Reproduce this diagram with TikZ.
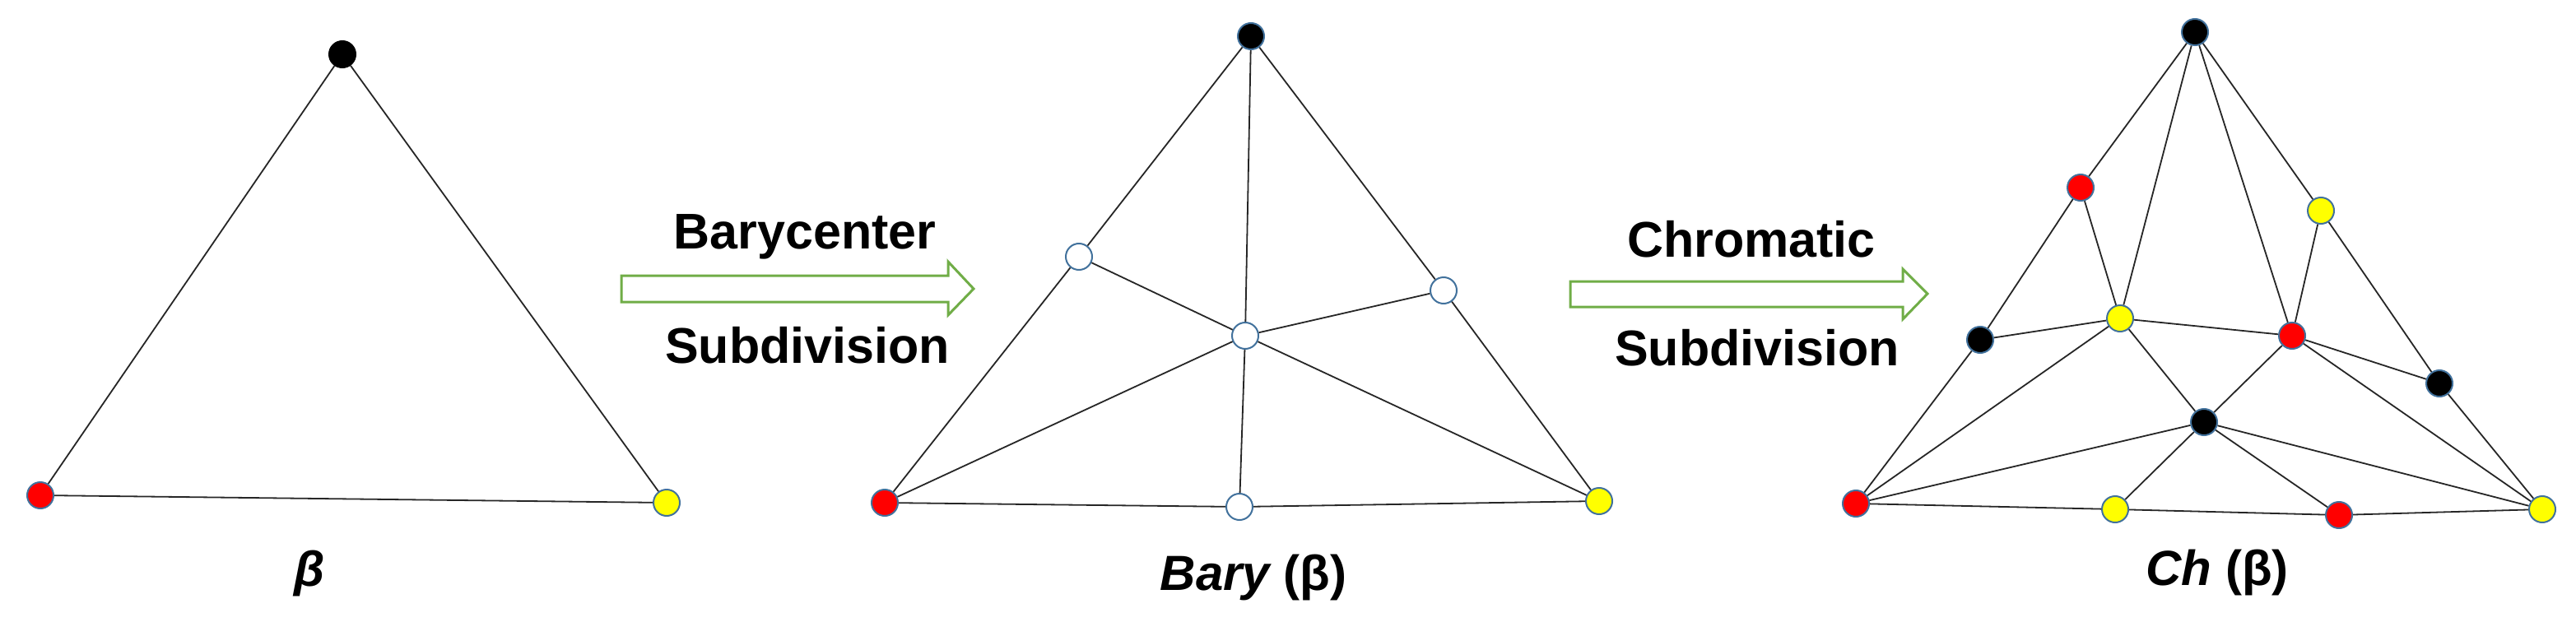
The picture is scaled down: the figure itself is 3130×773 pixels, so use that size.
\documentclass[tikz,border=0pt]{standalone}
\usepackage{fontspec}
\setmainfont{Liberation Sans}
\definecolor{dotline}{HTML}{41719C}
\definecolor{arrgreen}{HTML}{70AD47}
\definecolor{dred}{HTML}{FF0000}
\definecolor{dyellow}{HTML}{FFFF00}
\begin{document}
\begin{tikzpicture}[x=1pt,y=-1pt,
  dot/.style={circle,minimum size=32pt,inner sep=0pt,draw=dotline,line width=2pt},
  kdot/.style={dot,fill=black},
  rdot/.style={dot,fill=dred},
  ydot/.style={dot,fill=dyellow},
  wdot/.style={dot,fill=white},
  edge/.style={line width=1.8pt,black!85},
  bigarrow/.style={draw=arrgreen,line width=3pt,fill=white,line join=miter},
  lbl/.style={font=\bfseries\fontsize{61}{70}\selectfont,anchor=base,inner sep=0pt},
  caption/.style={font=\bfseries\fontsize{60}{70}\selectfont,anchor=base,inner sep=0pt}]
\useasboundingbox (0,0) rectangle (3130,773);

% ---- triangle beta
\node[kdot,draw=black] (a1) at (416,66) {};
\node[rdot] (a2) at (49,602) {};
\node[ydot] (a3) at (810,611) {};
\draw[edge] (a1) -- (a2);
\draw[edge] (a1) -- (a3);
\draw[edge] (a2) -- (a3);
\node[caption] (la) at (376,712) {\itshape β};

% ---- arrow 1
\draw[bigarrow] (755,335) -- (1152,335) -- (1152,318) -- (1183,351) -- (1152,383) -- (1152,367) -- (755,367) -- cycle;
\node[lbl] (t1) at (978,302) {Barycenter};
\node[lbl] (t2) at (981,441) {Subdivision};

% ---- Bary
\node[kdot] (bT) at (1520,44) {};
\node[rdot] (bR) at (1075,611) {};
\node[ydot] (bY) at (1943,609) {};
\node[wdot] (bL) at (1311,312) {};
\node[wdot] (bRw) at (1754,353) {};
\node[wdot] (bC) at (1513,408) {};
\node[wdot] (bB) at (1506,616) {};
\draw[edge] (bT) -- (bL); \draw[edge] (bL) -- (bR);
\draw[edge] (bT) -- (bRw); \draw[edge] (bRw) -- (bY);
\draw[edge] (bR) -- (bB); \draw[edge] (bB) -- (bY);
\draw[edge] (bT) -- (bC); \draw[edge] (bC) -- (bB);
\draw[edge] (bL) -- (bC); \draw[edge] (bC) -- (bRw);
\draw[edge] (bR) -- (bC); \draw[edge] (bC) -- (bY);
\node[caption] (lb) at (1523,717) {\itshape Bary\upshape\ (β)};

% ---- arrow 2
\draw[bigarrow] (1908,342) -- (2312,342) -- (2312,327) -- (2342,357) -- (2312,388) -- (2312,373) -- (1908,373) -- cycle;
\node[lbl] (t3) at (2128,312) {Chromatic};
\node[lbl] (t4) at (2135,444) {Subdivision};

% ---- Ch
\node[kdot] (cT) at (2667,39) {};
\node[rdot] (cR1) at (2528,228) {};
\node[ydot] (cY1) at (2820,256) {};
\node[kdot] (cK1) at (2406,413) {};
\node[ydot] (cYc) at (2576,387) {};
\node[rdot] (cRc) at (2785,408) {};
\node[kdot] (cK2) at (2964,466) {};
\node[kdot] (cKc) at (2678,513) {};
\node[rdot] (cRB) at (2255,612) {};
\node[ydot] (cYb) at (2570,619) {};
\node[rdot] (cRb) at (2842,626) {};
\node[ydot] (cYB) at (3089,619) {};
\draw[edge] (cT) -- (cR1); \draw[edge] (cR1) -- (cK1); \draw[edge] (cK1) -- (cRB);
\draw[edge] (cT) -- (cY1); \draw[edge] (cY1) -- (cK2); \draw[edge] (cK2) -- (cYB);
\draw[edge] (cRB) -- (cYb); \draw[edge] (cYb) -- (cRb); \draw[edge] (cRb) -- (cYB);
\draw[edge] (cT) -- (cYc); \draw[edge] (cT) -- (cRc);
\draw[edge] (cR1) -- (cYc); \draw[edge] (cY1) -- (cRc);
\draw[edge] (cK1) -- (cYc); \draw[edge] (cYc) -- (cRc); \draw[edge] (cRc) -- (cK2);
\draw[edge] (cYc) -- (cRB); \draw[edge] (cYc) -- (cKc);
\draw[edge] (cRc) -- (cKc); \draw[edge] (cRc) -- (cYB);
\draw[edge] (cKc) -- (cRB); \draw[edge] (cKc) -- (cYb);
\draw[edge] (cKc) -- (cRb); \draw[edge] (cKc) -- (cYB);
\node[caption] (lc) at (2694,711) {\itshape Ch\upshape\ (β)};
\end{tikzpicture}
\end{document}
